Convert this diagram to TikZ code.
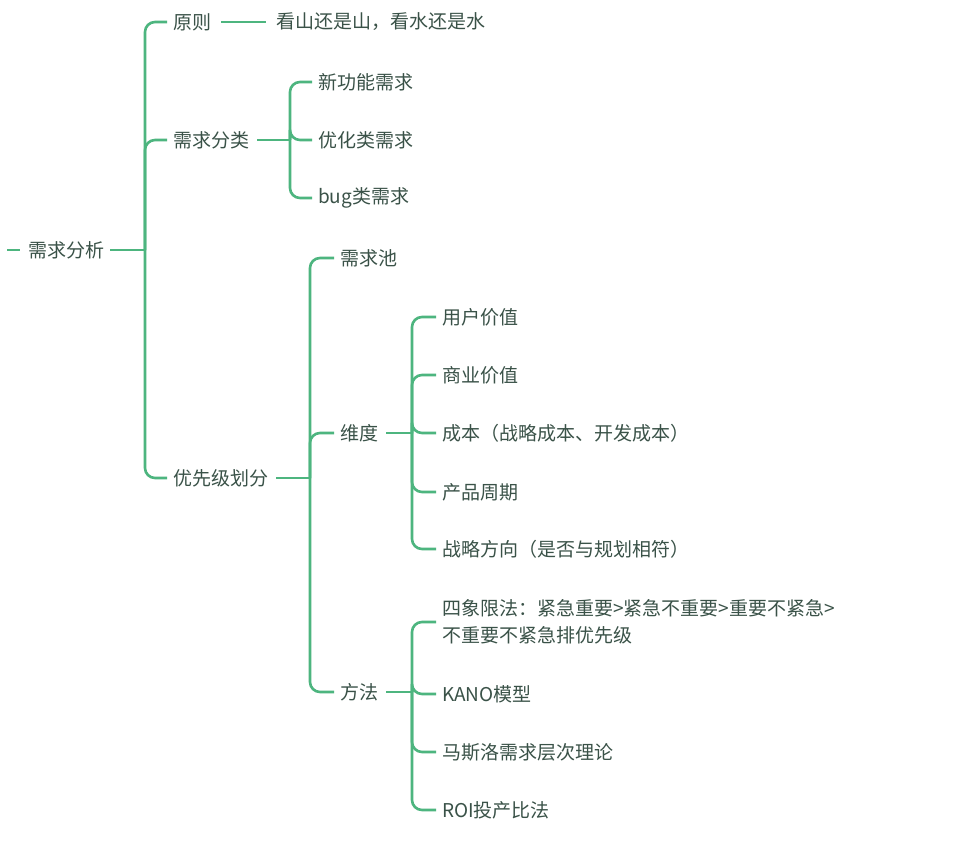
\documentclass[tikz,border=0pt]{standalone}
\usepackage{fontspec}
\setmainfont{Noto Sans CJK SC}
\begin{document}
\begin{tikzpicture}[x=1pt,y=-1pt,
  t/.style={anchor=west,inner sep=0pt,text=txt,font=\fontsize{19}{27}\selectfont},
  ln/.style={draw=grn,line width=2.6pt,rounded corners=10pt},
  st/.style={draw=grn,line width=2.6pt}]
\definecolor{grn}{HTML}{4DB57F}
\definecolor{txt}{HTML}{3A5248}
\useasboundingbox[fill=white] (0,0) rectangle (960,842);
\node[t] (root) at (28,250) {需求分析};
\coordinate (l0) at (7,250);
\draw[st] (l0) -- (20,250);
\coordinate (j0) at (145,250);
\draw[st] (root.east)++(6,0) -- (j0);
\node[t] (yz) at (173,22) {原则};
\node[t] (ks) at (276,22) {看山还是山，看水还是水};
\draw[st] ([xshift=10pt]yz.east) -- ([xshift=-10pt]ks.west);
\node[t] (fl) at (173,140) {需求分类};
\node[t] (yx) at (173,478) {优先级划分};
\foreach \n in {yz,fl,yx} \draw[ln] (j0) |- ([xshift=-6pt]\n.west);
% 需求分类
\coordinate (j1) at (290,140);
\draw[st] ([xshift=8pt]fl.east) -- (j1);
\node[t] (a1) at (318,82) {新功能需求};
\node[t] (a2) at (318,140) {优化类需求};
\node[t] (a3) at (318,198) {bug类需求};
\foreach \n in {a1,a2,a3} \draw[ln] (j1) |- ([xshift=-6pt]\n.west);
% 优先级划分
\coordinate (j2) at (310,478);
\draw[st] ([xshift=8pt]yx.east) -- (j2);
\node[t] (c) at (340,258) {需求池};
\node[t] (wd) at (340,433) {维度};
\node[t] (ff) at (340,692) {方法};
\foreach \n in {c,wd,ff} \draw[ln] (j2) |- ([xshift=-6pt]\n.west);
% 维度
\coordinate (j3) at (412,433);
\draw[st] ([xshift=8pt]wd.east) -- (j3);
\node[t] (d1) at (442,317) {用户价值};
\node[t] (d2) at (442,375) {商业价值};
\node[t] (d3) at (442,433) {成本（战略成本、开发成本）};
\node[t] (d4) at (442,492) {产品周期};
\node[t] (d5) at (442,549) {战略方向（是否与规划相符）};
\foreach \n in {d1,d2,d3,d4,d5} \draw[ln] (j3) |- ([xshift=-6pt]\n.west);
% 方法
\coordinate (j4) at (412,692);
\draw[st] ([xshift=8pt]ff.east) -- (j4);
\node[t,align=left] (m1) at (442,622) {四象限法：紧急重要>紧急不重要>重要不紧急>\\不重要不紧急排优先级};
\node[t] (m2) at (442,694) {KANO模型};
\node[t] (m3) at (442,752) {马斯洛需求层次理论};
\node[t] (m4) at (442,810) {ROI投产比法};
\foreach \n in {m1,m2,m3,m4} \draw[ln] (j4) |- ([xshift=-6pt]\n.west);
\end{tikzpicture}
\end{document}
